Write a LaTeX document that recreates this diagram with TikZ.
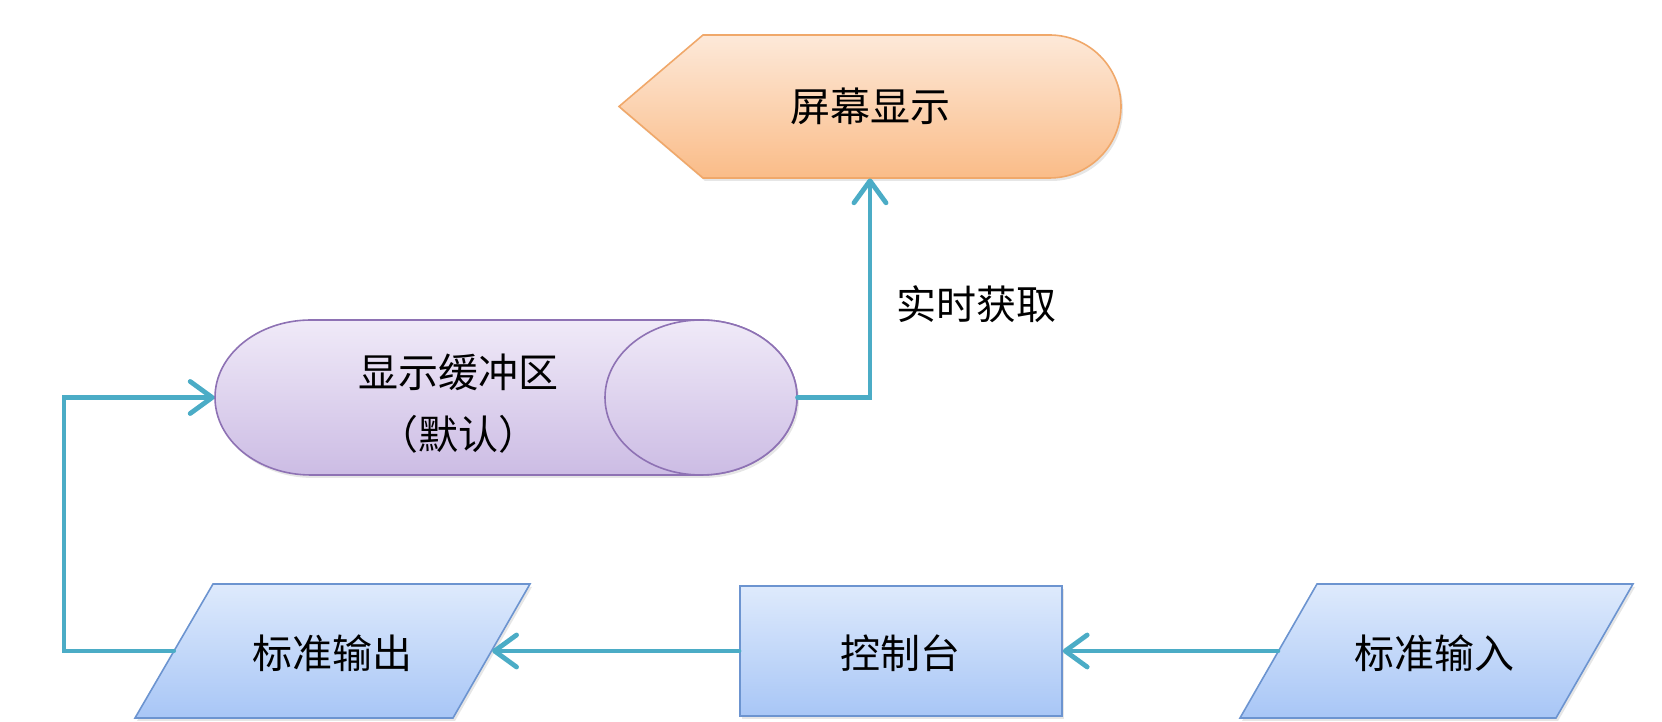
\documentclass[tikz,border=0pt]{standalone}
\usepackage{fontspec}
\newfontfamily\cjk{Noto Sans CJK SC}
\usetikzlibrary{arrows.meta,shadows}
\definecolor{teal1}{RGB}{75,172,198}
\definecolor{orTop}{RGB}{253,233,217}
\definecolor{orBot}{RGB}{250,188,136}
\definecolor{orLine}{RGB}{240,168,106}
\definecolor{puTop}{RGB}{240,234,248}
\definecolor{puBot}{RGB}{204,188,228}
\definecolor{puLine}{RGB}{142,114,180}
\definecolor{blTop}{RGB}{222,234,252}
\definecolor{blBot}{RGB}{168,198,246}
\definecolor{blLine}{RGB}{108,148,208}
\tikzset{
  box/.style={draw=none,inner sep=0pt},
  lbl/.style={font=\cjk\fontsize{20}{31}\selectfont,inner sep=0pt,align=center},
  dispshape/.style={draw=orLine,line width=0.8pt,top color=orTop,bottom color=orBot,
    drop shadow={opacity=0.2,shadow xshift=1pt,shadow yshift=-1.5pt}},
  cylshape/.style={draw=puLine,line width=0.8pt,top color=puTop,bottom color=puBot,
    drop shadow={opacity=0.2,shadow xshift=1pt,shadow yshift=-1.5pt}},
  cylcap/.style={draw=puLine,line width=0.8pt,top color=puTop,bottom color=puBot},
  blueshape/.style={draw=blLine,line width=0.8pt,top color=blTop,bottom color=blBot,
    drop shadow={opacity=0.2,shadow xshift=1pt,shadow yshift=-1.5pt}},
  conn/.style={draw=teal1,line width=2.2pt,line cap=round,
    -{Straight Barb[length=11pt,width=16pt,line width=2.4pt,round]}}
}
\begin{document}
\begin{tikzpicture}[x=0.5pt,y=0.5pt]
\useasboundingbox (0,0) rectangle (1662,722);
% display
\path[dispshape] (619,615.5) -- (703,687) -- (1049.5,687)
  arc[start angle=90,end angle=-90,radius=35.75pt] -- (703,544) -- cycle;
\node[box,minimum width=251pt,minimum height=71.5pt] (disp) at (870,615.5) {};
\node[lbl] (disptext) at (870,615.5) {屏幕显示};
% buffer cylinder
\path[cylshape] (311,402) arc[start angle=90,end angle=270,x radius=48pt,y radius=38.75pt]
  -- (701,247) arc[start angle=-90,end angle=90,x radius=48pt,y radius=38.75pt] -- cycle;
\path[cylcap] (701,324.5) ellipse[x radius=48pt,y radius=38.75pt];
\node[box,minimum width=291pt,minimum height=77.5pt] (buf) at (506,324.5) {};
\node[lbl] (buftext) at (458,318) {显示缓冲区\\（默认）};
% standard output
\path[blueshape] (213,138) -- (530,138) -- (453,4) -- (135,4) -- cycle;
\node[box,minimum width=158.75pt,minimum height=67pt] (out) at (333,71) {};
\node[lbl] (outtext) at (332,69) {标准输出};
% console
\node[blueshape,minimum width=161pt,minimum height=65pt,inner sep=0pt] (con) at (901,71) {};
\node[lbl] (context) at (900,69) {控制台};
% standard input
\path[blueshape] (1317,138) -- (1633,138) -- (1556,4) -- (1240,4) -- cycle;
\node[box,minimum width=158pt,minimum height=67pt] (in) at (1436.5,71) {};
\node[lbl] (intext) at (1434,69) {标准输入};
% connectors
\coordinate (lp) at (64,200);
\draw[conn] (in.west) -- (con.east);
\draw[conn] (con.west) -- (out.east);
\draw[conn] (out.west) -| (lp) |- (buf.west);
\draw[conn] (buf.east) -| (disp.south);
\node[lbl] (get) at (976,418) {实时获取};
\end{tikzpicture}
\end{document}
